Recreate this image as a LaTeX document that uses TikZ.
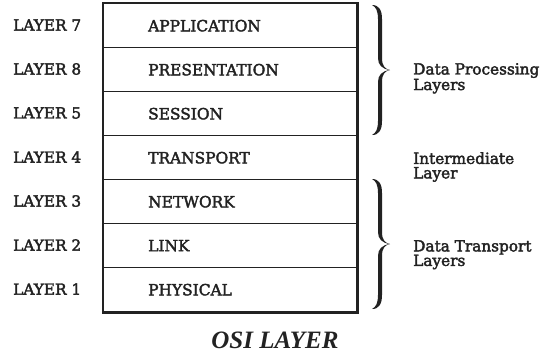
\documentclass[tikz,border=0pt]{standalone}
\usepackage{fontspec}
\setmainfont{DejaVu Serif}
\newfontfamily\bodyfont{DejaVu Serif}[FakeBold=2.5]
\newfontfamily\titlefont{Liberation Serif}
\definecolor{ink}{HTML}{222222}
\begin{document}
\begin{tikzpicture}[x=1pt,y=-1pt,
  rowbox/.style={draw=ink, line width=1.4pt, minimum width=253pt, minimum height=44pt, inner sep=0pt, anchor=north west},
  rowtext/.style={text=ink, font=\bodyfont\fontsize{15.4}{16}\selectfont, inner sep=0pt, anchor=west},
  lbl/.style={text=ink, font=\bodyfont\fontsize{15.3}{16}\selectfont, inner sep=0pt, anchor=west},
  side/.style={text=ink, font=\bodyfont\fontsize{15.3}{14.5}\selectfont, inner sep=0pt, anchor=north west, align=left},
  bracefill/.style={fill=ink}
]
\useasboundingbox (0,0) rectangle (557,354);
% rows
\node[rowbox] (r7) at (103,3) {};
\node[rowbox] (r6) at (103,47) {};
\node[rowbox] (r5) at (103,91) {};
\node[rowbox] (r4) at (103,135) {};
\node[rowbox] (r3) at (103,179) {};
\node[rowbox] (r2) at (103,223) {};
\node[rowbox] (r1) at (103,267) {};
\draw[ink, line width=2.2pt] (r7.north west) rectangle (r1.south east);
% row texts
\node[rowtext] (t7) at ([xshift=45pt]r7.west) {APPLICATION};
\node[rowtext] (t6) at ([xshift=45pt]r6.west) {PRESENTATION};
\node[rowtext] (t5) at ([xshift=45pt]r5.west) {SESSION};
\node[rowtext] (t4) at ([xshift=45pt]r4.west) {TRANSPORT};
\node[rowtext] (t3) at ([xshift=45pt]r3.west) {NETWORK};
\node[rowtext] (t2) at ([xshift=45pt]r2.west) {LINK};
\node[rowtext] (t1) at ([xshift=45pt]r1.west) {PHYSICAL};
% layer labels
\node[lbl] (l7) at (13,25) {LAYER 7};
\node[lbl] (l6) at (13,69) {LAYER 8};
\node[lbl] (l5) at (13,113) {LAYER 5};
\node[lbl] (l4) at (13,157) {LAYER 4};
\node[lbl] (l3) at (13,201) {LAYER 3};
\node[lbl] (l2) at (13,245) {LAYER 2};
\node[lbl] (l1) at (13,289) {LAYER 1};
% braces
\foreach \yy in {5,179} {
\fill[bracefill, shift={(372,\yy)}] (0,0) .. controls (7,0) and (10,5) .. (10,14) -- (10,53) .. controls (10,61) and (13,64) .. (18,65) .. controls (13,66) and (10,69) .. (10,77) -- (10,116) .. controls (10,125) and (7,130) .. (0,130) .. controls (4,128) and (6,124) .. (6,116) -- (6,77) .. controls (6,70) and (10,66) .. (18,65) .. controls (10,64) and (6,60) .. (6,53) -- (6,14) .. controls (6,6) and (4,2) .. (0,0) -- cycle;
}
% side texts
\node[side] (dp) at (413,63) {Data Processing\\Layers};
\node[side] (im) at (413,152) {Intermediate\\Layer};
\node[side] (dt) at (413,240) {Data Transport\\Layers};
% title
\node[text=ink, font=\titlefont\fontsize{25}{28}\selectfont\bfseries\itshape, inner sep=0pt, anchor=base] (title) at (275,348) {OSI LAYER};
\end{tikzpicture}
\end{document}
